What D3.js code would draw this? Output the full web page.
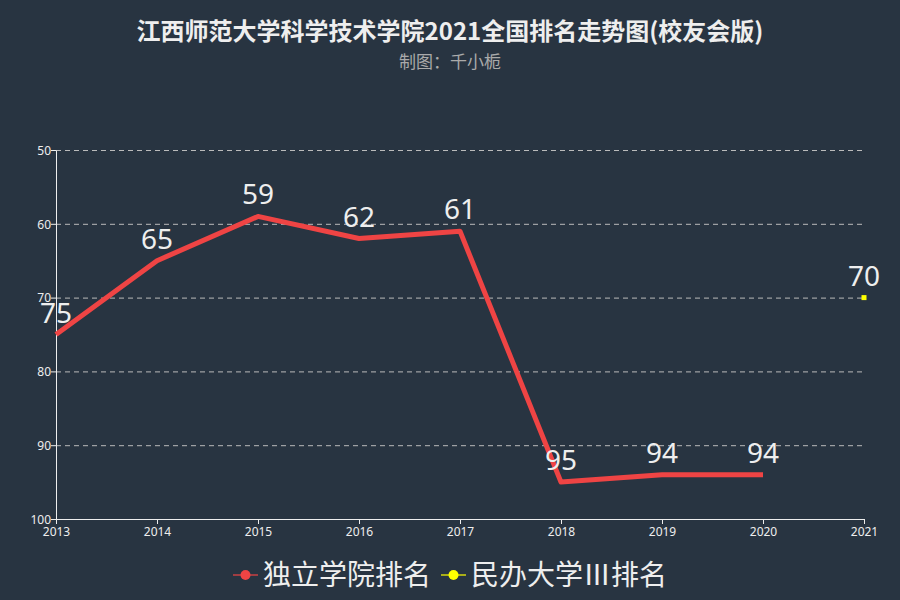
<!DOCTYPE html>
<html>
<head>
<meta charset="utf-8">
<script src="https://cdn.jsdelivr.net/npm/d3@7"></script>
<style>
  body { margin: 0; background: #283441; }
  svg { display: block; font-family: 'Microsoft YaHei', 'Noto Sans CJK SC', sans-serif; }
</style>
</head>
<body>
<div id="chart"></div>
<script>
// chart data
var years      = [ '2013', '2014', '2015', '2016', '2017', '2018', '2019', '2020', '2021' ];
var independentRank = [ 75, 65, 59, 62, 61, 95, 94, 94, null ];
var privateRank     = [ null, null, null, null, null, null, null, null, 70 ];
var yTicks     = [ 50, 60, 70, 80, 90, 100 ];
var seriesNames = [ '独立学院排名', '民办大学Ⅲ排名' ];

var titleText = '江西师范大学科学技术学院2021全国排名走势图(校友会版)';
var subText   = '制图：千小栀';

var W = 900, H = 600;
var margin = { top: 150, right: 36, bottom: 81, left: 56 };
var width  = W - margin.left - margin.right;
var height = H - margin.top - margin.bottom;

var colours = [ '#ef4444', '#ffff00' ];

var svg = d3.select('#chart').append('svg')
            .attr('width', W)
            .attr('height', H);

svg.append('rect').attr('width', W).attr('height', H).attr('fill', '#283441');

// title
svg.append('text')
   .attr('x', W / 2).attr('y', 40)
   .attr('text-anchor', 'middle')
   .attr('font-size', '24px')
   .attr('font-weight', 'bold')
   .attr('fill', '#eeeeee')
   .text(titleText);

svg.append('text')
   .attr('x', W / 2).attr('y', 68)
   .attr('text-anchor', 'middle')
   .attr('font-size', '17px')
   .attr('fill', '#aaaaaa')
   .text(subText);

var g = svg.append('g')
           .attr('transform', 'translate(' + margin.left + ',' + margin.top + ')');

var xScale = d3.scalePoint().domain(years).range([ 0, width ]);
var yScale = d3.scaleLinear().domain([ 50, 100 ]).range([ 0, height ]);

// grid lines
g.selectAll('.grid')
 .data(yTicks.slice(0, -1))
 .enter().append('line')
 .attr('x1', 0).attr('x2', width)
 .attr('y1', function (d) { return yScale(d) + 0.5; })
 .attr('y2', function (d) { return yScale(d) + 0.5; })
 .attr('stroke', '#bbbbbb')
 .attr('stroke-dasharray', '5,4');

// axes
var xAxis = d3.axisBottom(xScale).tickSize(5).tickSizeOuter(0);
var yAxis = d3.axisLeft(yScale).tickValues(yTicks).tickSize(5).tickSizeOuter(0);

var xg = g.append('g').attr('transform', 'translate(0,' + height + ')').call(xAxis);
var yg = g.append('g').call(yAxis);

[ xg, yg ].forEach(function (a) {
    a.selectAll('path, line').attr('stroke', '#eeeeee');
    a.selectAll('text').attr('fill', '#eeeeee').attr('font-size', '12px')
     .attr('font-family', "'Microsoft YaHei', 'Noto Sans', sans-serif");
});
yg.selectAll('text').attr('x', -5).attr('dy', '0.35em');
xg.selectAll('text').attr('y', 8);

// series 1 line
var line = d3.line()
             .defined(function (d) { return d != null; })
             .x(function (d, i) { return xScale(years[i]); })
             .y(function (d) { return yScale(d); });

g.append('path')
 .datum(independentRank)
 .attr('d', line)
 .attr('fill', 'none')
 .attr('stroke', colours[0])
 .attr('stroke-width', 5)
 .attr('stroke-linejoin', 'round');

// series 2 point
privateRank.forEach(function (d, i) {
    if (d == null) return;
    g.append('rect')
     .attr('x', xScale(years[i]) - 2.5).attr('y', yScale(d) - 2.5)
     .attr('width', 5).attr('height', 5)
     .attr('fill', colours[1]);
});

// value labels
[ independentRank, privateRank ].forEach(function (series) {
    series.forEach(function (d, i) {
        if (d == null) return;
        g.append('text')
         .attr('x', xScale(years[i]))
         .attr('y', yScale(d) - 12)
         .attr('text-anchor', 'middle')
         .attr('font-size', '28px')
         .attr('font-family', "'Microsoft YaHei', 'Noto Sans', sans-serif")
         .attr('fill', '#eeeeee')
         .text(d);
    });
});

// legend
var legendX = [ 233, 441 ];
seriesNames.forEach(function (name, i) {
    var lg = svg.append('g').attr('transform', 'translate(' + legendX[i] + ',575)');
    lg.append('line').attr('x1', 0).attr('x2', 25).attr('y1', 0).attr('y2', 0)
      .attr('stroke', colours[i]).attr('stroke-width', 2).attr('opacity', 0.6);
    lg.append('circle').attr('cx', 12.5).attr('cy', 0).attr('r', 5).attr('fill', colours[i]);
    lg.append('text').attr('x', 30).attr('y', 0).attr('dy', '0.36em')
      .attr('font-size', '28px').attr('fill', '#eeeeee')
      .text(name);
});
</script>
</body>
</html>
